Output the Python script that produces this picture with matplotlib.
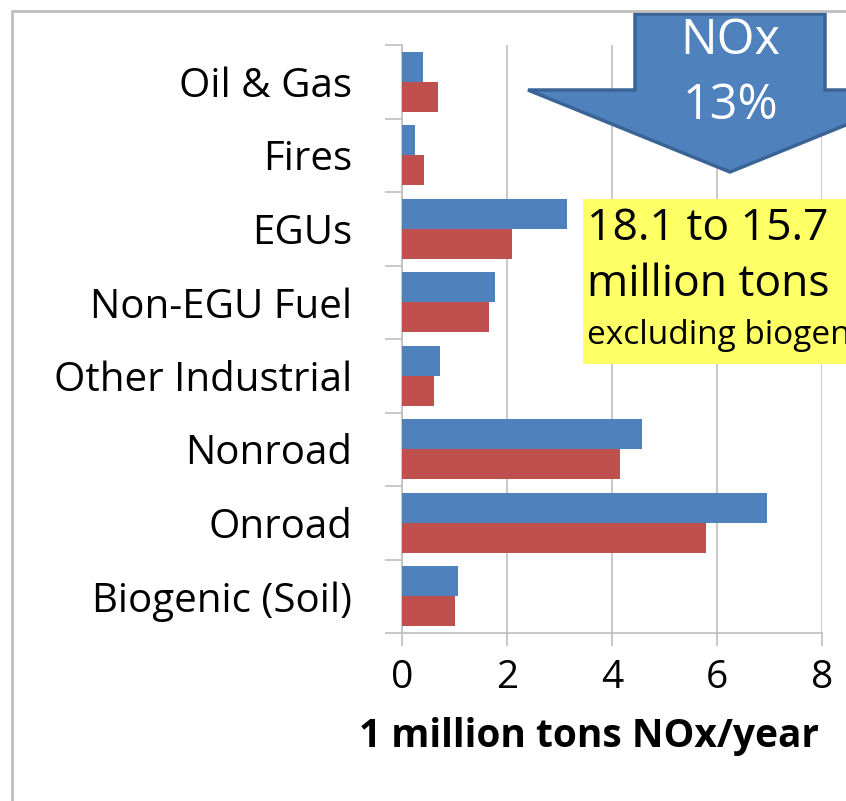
import matplotlib
matplotlib.use("Agg")
import matplotlib.pyplot as plt
import numpy as np
from matplotlib.patches import Polygon, Rectangle

plt.rcParams['font.family'] = ['Open Sans', 'DejaVu Sans']

# categories listed top to bottom
categories = ['Oil & Gas', 'Fires', 'EGUs', 'Non-EGU Fuel', 'Other Industrial',
              'Nonroad', 'Onroad', 'Biogenic (Soil)']
emis_before = [0.40, 0.24, 3.14, 1.78, 0.72, 4.57, 6.95, 1.07]   # blue
emis_after = [0.68, 0.42, 2.09, 1.66, 0.61, 4.15, 5.79, 1.01]    # red
xticks = [0, 2, 4, 6, 8]

W, H = 846, 801
fig = plt.figure(figsize=(W / 100, H / 100), dpi=100)
fig.patch.set_facecolor('white')

# plot area in pixels
left, right, top, bottom = 402, 822, 45, 633
ax = fig.add_axes([left / W, 1 - bottom / H, (right - left) / W, (bottom - top) / H])

blue = '#4F81BD'
red = '#C0504D'
grid = '#BFBFBF'

y = np.arange(len(categories))
bh = 0.41
ax.barh(y - bh / 2, emis_before, height=bh, color=blue, zorder=3)
ax.barh(y + bh / 2, emis_after, height=bh, color=red, zorder=3)

ax.set_ylim(len(categories) - 0.5, -0.5)
ax.set_xlim(0, 8)
ax.set_xticks(xticks)
ax.set_xticklabels([str(t) for t in xticks], fontsize=28)
ax.set_yticks(y)
ax.set_yticklabels(categories, fontsize=29)
ax.set_yticks(np.arange(-0.5, len(categories)), minor=True)
ax.tick_params(axis='y', which='major', length=0, pad=36)
ax.tick_params(axis='y', which='minor', length=12, color=grid, width=1.2)
ax.tick_params(axis='x', length=9, color=grid, width=1.2, pad=10)
ax.xaxis.grid(True, color=grid, linewidth=1.2, zorder=0)
for side in ['top', 'right']:
    ax.spines[side].set_visible(False)
for side in ['left', 'bottom']:
    ax.spines[side].set_color(grid)
    ax.spines[side].set_linewidth(1.2)

fig.text(589 / W, 1 - 737 / H, '1 million tons NOx/year', fontsize=28,
         fontweight='bold', ha='center', va='center')

# overlay in pixel coordinates for the frame, arrow and callout box
ov = fig.add_axes([0, 0, 1, 1], zorder=5)
ov.set_xlim(0, W)
ov.set_ylim(H, 0)
ov.axis('off')
ov.patch.set_alpha(0)

ov.plot([12, 12, W + 5], [H + 5, 11, 11], color='#BFBFBF', lw=2)

arrow = Polygon([(635, 14), (825, 14), (825, 90), (932, 90), (730, 172),
                 (528, 90), (635, 90)], closed=True,
                facecolor=blue, edgecolor='#3A6496', lw=2.5)
ov.add_patch(arrow)
ov.text(730, 41, 'NOx', color='white', fontsize=35, ha='center', va='center')
ov.text(730, 106, '13%', color='white', fontsize=35, ha='center', va='center')

ov.add_patch(Rectangle((583, 199), 300, 165, facecolor='#FFFF66', edgecolor='none'))
ov.text(587, 229, '18.1 to 15.7', fontsize=32, ha='left', va='center')
ov.text(587, 285, 'million tons', fontsize=32, ha='left', va='center')
ov.text(587, 336, 'excluding biogenic', fontsize=24, ha='left', va='center')

fig.savefig('out.png', dpi=100)
